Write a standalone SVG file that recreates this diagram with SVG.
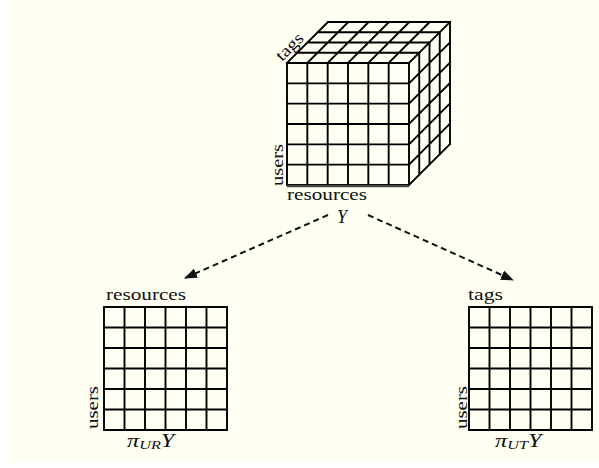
<svg xmlns="http://www.w3.org/2000/svg" width="599" height="468" viewBox="0 0 599 468">
<style>
.g{stroke:#000;stroke-width:1.9;fill:none;stroke-linecap:square}
.t{font-family:"Liberation Serif","Times New Roman",serif;font-size:17px;fill:#111}
.m{font-family:"Liberation Serif","Times New Roman",serif;font-style:italic;fill:#111}
.d{stroke:#111;stroke-width:2;stroke-dasharray:6 4;fill:none}
</style>
<defs>
<marker id="ah" markerWidth="14" markerHeight="10" refX="12" refY="5" orient="auto" markerUnits="userSpaceOnUse">
<path d="M0,0 L13,5 L0,10 Z" fill="#111"/>
</marker>
</defs>
<rect x="0" y="0" width="599" height="468" fill="#ffffff"/>
<rect x="10" y="0" width="589" height="462" fill="#fffff2"/>

<g id="cube">
<path class="g" d="M287,63H409M287,83.33H409M287,103.67H409M287,124H409M287,144.33H409M287,164.67H409M287,185H409
M287,63V185M307.33,63V185M327.67,63V185M348,63V185M368.33,63V185M388.67,63V185M409,63V185"/>
<path class="g" d="M297.25,52.75H419.25M307.5,42.5H429.5M317.75,32.25H439.75M328,22H450
M287,63L328,22M307.33,63L348.33,22M327.67,63L368.67,22M348,63L389,22M368.33,63L409.33,22M388.67,63L429.67,22M409,63L450,22"/>
<path class="g" d="M419.25,52.75V174.75M429.5,42.5V164.5M439.75,32.25V154.25M450,22V144
M409,83.33L450,42.33M409,103.67L450,62.67M409,124L450,83M409,144.33L450,103.33M409,164.67L450,123.67M409,185L450,144"/>
<line x1="287" y1="186" x2="409" y2="186" stroke="#444" stroke-width="2.5"/>
<text class="t" transform="translate(282,62) rotate(-45)" textLength="32" lengthAdjust="spacingAndGlyphs">tags</text>
<text class="t" transform="translate(283,186) rotate(-90)" textLength="42" lengthAdjust="spacingAndGlyphs">users</text>
<text class="t" x="287" y="200" textLength="80" lengthAdjust="spacingAndGlyphs">resources</text>
<text class="m" x="337" y="223" font-size="18">Y</text>
</g>

<g id="matrixUR">
<path class="g" d="M104,307H227M104,327.5H227M104,348H227M104,368.5H227M104,389H227M104,409.5H227M104,430H227
M104,307V430M124.5,307V430M145,307V430M165.5,307V430M186,307V430M206.5,307V430M227,307V430"/>
<text class="t" x="106" y="300" textLength="80" lengthAdjust="spacingAndGlyphs">resources</text>
<text class="t" transform="translate(98,429) rotate(-90)" textLength="43" lengthAdjust="spacingAndGlyphs">users</text>
<text class="m" transform="translate(127,447) scale(1.35,1)"><tspan font-size="18">π</tspan><tspan font-size="12" dy="2">UR</tspan><tspan font-size="18" dy="-2">Y</tspan></text>
</g>

<g id="matrixUT">
<path class="g" d="M469,307H592M469,327.5H592M469,348H592M469,368.5H592M469,389H592M469,409.5H592M469,430H592
M469,307V430M489.5,307V430M510,307V430M530.5,307V430M551,307V430M571.5,307V430M592,307V430"/>
<text class="t" x="468" y="300" textLength="35" lengthAdjust="spacingAndGlyphs">tags</text>
<text class="t" transform="translate(467,429) rotate(-90)" textLength="43" lengthAdjust="spacingAndGlyphs">users</text>
<text class="m" transform="translate(495,447) scale(1.35,1)"><tspan font-size="18">π</tspan><tspan font-size="12" dy="2">UT</tspan><tspan font-size="18" dy="-2">Y</tspan></text>
</g>

<g id="connectors">
<path class="d" d="M328,215L185,278" marker-end="url(#ah)"/>
<path class="d" d="M368,215L513,280" marker-end="url(#ah)"/>
</g>
</svg>
